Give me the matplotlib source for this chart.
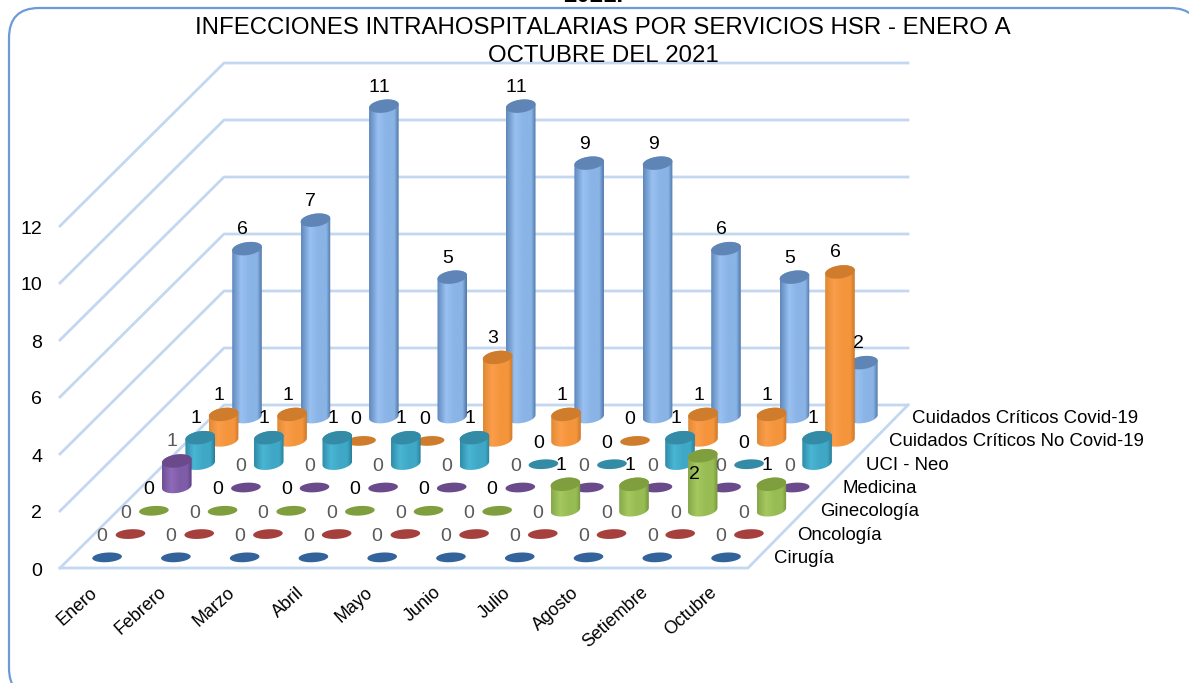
import numpy as np
import matplotlib
matplotlib.use("Agg")
import matplotlib.pyplot as plt
from matplotlib.colors import to_rgb
from matplotlib.patches import FancyBboxPatch, PathPatch, Polygon
from matplotlib.path import Path

plt.rcParams["font.family"] = ["Liberation Sans", "DejaVu Sans"]
plt.rcParams["text.kerning_factor"] = 6

months = ["Enero", "Febrero", "Marzo", "Abril", "Mayo", "Junio", "Julio",
          "Agosto", "Setiembre", "Octubre"]
series = ["Cirugía", "Oncología", "Ginecología", "Medicina", "UCI - Neo",
          "Cuidados Críticos No Covid-19", "Cuidados Críticos Covid-19"]
cirugia = [0, 0, 0, 0, 0, 0, 0, 0, 0, 0]
oncologia = [0, 0, 0, 0, 0, 0, 0, 0, 0, 0]
ginecologia = [0, 0, 0, 0, 0, 0, 1, 1, 2, 1]
medicina = [1, 0, 0, 0, 0, 0, 0, 0, 0, 0]
uci_neo = [1, 1, 1, 1, 1, 0, 0, 1, 0, 1]
no_covid = [1, 1, 0, 0, 3, 1, 0, 1, 1, 6]
covid = [6, 7, 11, 5, 11, 9, 9, 6, 5, 2]
values = [cirugia, oncologia, ginecologia, medicina, uci_neo, no_covid, covid]
yticks = [0, 2, 4, 6, 8, 10, 12]

# edge, light, mid, far edge, top disc
palette = [
    ("#3d6a9e", "#5f8fc4", "#4d7cb0", "#345c8c", "#33639b"),
    ("#a83f3c", "#c45a56", "#b04a46", "#8c3330", "#a5403d"),
    ("#86a84a", "#a5c95e", "#98bc54", "#74943c", "#7f9f3f"),
    ("#6f4f96", "#8e6ab8", "#7f5ca8", "#5c3f80", "#6b4a8c"),
    ("#2f8ca8", "#4ab6d4", "#3fa8c6", "#2a7f9a", "#338ba5"),
    ("#e08a34", "#fb9d4a", "#f4953c", "#cc782a", "#cf7d2c"),
    ("#5f88bc", "#98c0f0", "#8ab3e6", "#5079aa", "#5f85b6"),
]
grey_labels = {0, 1, 3}

# oblique projection of the Excel 3-D chart, in picture pixels
X0, Y0 = 60, 568
FLOOR_W, BACK_SHRINK = 688, 4
DEPTH_X, DEPTH_Y = 164, 163
UNIT = 28.5
TOP_DROP = 3           # cylinder tops stop a little under their gridline
CYL_W, CYL_H, ZERO_H = 14.8, 6.5, 4.8
TILT, ZERO_TILT = -0.12, -0.06
n_m, n_s = len(months), len(series)


def project(m, s, v=0.0):
    """month slot, series slot (fractions allowed), value -> pixel x, y"""
    width = FLOOR_W - BACK_SHRINK * s / n_s
    px = X0 + width * m / n_m + DEPTH_X * s / n_s
    py = Y0 - DEPTH_Y * s / n_s - UNIT * v
    return px, py


def ellipse_pts(cx, cy, h, t, tilt=TILT):
    return np.c_[cx + CYL_W * np.cos(t), cy + h * np.sin(t) + tilt * CYL_W * np.cos(t)]


def draw_cylinder(ax, cx, by, ty, cols, z):
    t_low = np.linspace(np.pi, 0, 40)   # bottom edge, screen y points down
    t_up = np.linspace(0, -np.pi, 40)
    outline = np.r_[ellipse_pts(cx, by, CYL_H, t_low), ellipse_pts(cx, ty, CYL_H, t_up)]
    clip = PathPatch(Path(np.r_[outline, outline[:1]]), fc="none", ec="none", zorder=z)
    ax.add_patch(clip)
    stops = [0, 0.3, 0.6, 0.85, 1]
    rgb = [to_rgb(c) for c in (cols[0], cols[1], cols[2], cols[2], cols[3])]
    grad = np.linspace(0, 1, 64)
    img = np.stack([np.interp(grad, stops, [c[k] for c in rgb]) for k in range(3)], axis=-1)
    im = ax.imshow(img[None, :, :], extent=(cx - CYL_W, cx + CYL_W, by + 12, ty - 12),
                   aspect="auto", zorder=z, interpolation="bilinear")
    im.set_clip_path(clip)
    ax.add_patch(Polygon(ellipse_pts(cx, ty, CYL_H, np.linspace(0, 2 * np.pi, 60)),
                         fc=cols[4], ec="none", zorder=z + 0.1))


fig = plt.figure(figsize=(11.89, 6.83), dpi=100)
ax = fig.add_axes([0, 0, 1, 1])

frame = FancyBboxPatch((9, 8), 1191, 690, boxstyle="round,pad=0,rounding_size=30",
                       fc="white", ec="#6d9bd8", lw=1.6, zorder=0)
ax.add_patch(frame)

grid_c = "#c3d8f0"
for tk in yticks:
    xa, ya = project(0, 0, tk)
    xb, yb = project(0, n_s, tk)
    xc, yc = project(n_m, n_s, tk)
    ax.plot([xa, xb, xc], [ya, yb, yc], color=grid_c, lw=2, zorder=1)
    ax.text(42, ya + 3, str(tk), ha="right", va="center", fontsize=14, color="black", zorder=30)
# floor
xa, ya = project(n_m, 0)
xb, yb = project(n_m, n_s)
x0, y0 = project(0, 0)
ax.plot([x0, xa, xb], [y0, ya, yb], color=grid_c, lw=2, zorder=1)

# back to front, left to right
z = 2
for s in range(n_s - 1, -1, -1):
    for m in range(n_m):
        v = values[s][m]
        cx, by = project(m + 0.5, s + 0.5)
        _, ty = project(m + 0.5, s + 0.5, v)
        if v == 0:
            tt = np.linspace(0, 2 * np.pi, 60)
            ax.add_patch(Polygon(ellipse_pts(cx + 1, by + 1, ZERO_H, tt, ZERO_TILT),
                                 fc=palette[s][4], ec="none", zorder=z))
        else:
            draw_cylinder(ax, cx + 0.5, by, ty + TOP_DROP, palette[s], z)
        z += 0.2

for s in range(n_s):
    color = "#595959" if s in grey_labels else "black"
    for m in range(n_m):
        v = values[s][m]
        cx, by = project(m + 0.5, s + 0.5)
        _, ty = project(m + 0.5, s + 0.5, v)
        lx, ly = cx - 4, ty - 20
        if v > 0:
            ly += TOP_DROP + 1
        if v == 2 and s == 2:
            lx, ly = cx - 8, ty + 22   # this one sits inside its bar
        ax.text(lx, ly, str(v), ha="center", va="center", fontsize=14, color=color, zorder=40)

for s, name in enumerate(series):
    px, py = project(n_m, s + 0.5)
    ax.text(px + 15, py + 2, name, ha="left", va="center", fontsize=13.4, color="black", zorder=30)

for m, name in enumerate(months):
    px, _ = project(m + 0.5, 0)
    ax.text(px - 5, 584, name, rotation=42, rotation_mode="anchor", ha="right", va="top",
            fontsize=12.9, color="black", zorder=30)

ax.text(603, 28, "INFECCIONES INTRAHOSPITALARIAS POR SERVICIOS HSR - ENERO A",
        ha="center", va="center", fontsize=17.3, zorder=30)
ax.text(603, 56, "OCTUBRE DEL 2021", ha="center", va="center", fontsize=17.3, zorder=30)
ax.text(593, 2, "2021.", ha="center", va="baseline", fontsize=17.3, fontweight="bold", zorder=30)

ax.set_xlim(0, 1189)
ax.set_ylim(683, 0)
ax.axis("off")
fig.savefig("out.png", dpi=100)
